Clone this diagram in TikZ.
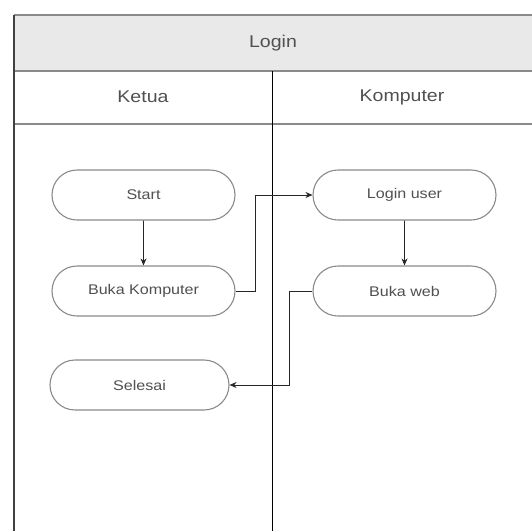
\documentclass[tikz,border=0pt]{standalone}
\usepackage{fontspec}
\setmainfont{Liberation Sans}
\newfontfamily\lanefont[FakeStretch=1.15]{Liberation Sans}
\usetikzlibrary{shapes.misc,arrows.meta}
\definecolor{bandgray}{HTML}{E9E9E9}
\definecolor{linegray}{HTML}{8A8A8A}
\definecolor{txtgray}{HTML}{505050}
\tikzset{
  actbox/.style={rounded rectangle, draw=linegray, line width=1.1pt, fill=white,
    minimum width=183pt, minimum height=50pt, inner sep=0pt,
    font=\lanefont\fontsize{14}{16}\selectfont, text=txtgray},
  headtxt/.style={font=\lanefont\fontsize{17}{19}\selectfont, text=txtgray},
  flow/.style={draw=black!85, line width=0.8pt, -{Stealth[length=7pt,width=6pt]}},
}
\begin{document}
\begin{tikzpicture}[x=1pt,y=-1pt]
\useasboundingbox (0,0) rectangle (532,531);
% title band
\fill[bandgray] (14,15) rectangle (532,71);
\draw[linegray, line width=1.4pt] (14,15) -- (532,15);
\draw[linegray, line width=1.4pt] (14,71) -- (532,71);
\draw[linegray, line width=1.4pt] (14,124) -- (532,124);
\draw[black!75, line width=1.4pt] (14,15) -- (14,531);
\draw[black, line width=0.9pt] (272,71) -- (272,531);
\node[headtxt] (title) at (273,43) {Login};
\node[headtxt] (ketua) at (143,97) {Ketua};
\node[headtxt] (komp) at (402,97) {Komputer};
% activities
\node[actbox] (start) at (143.5,195) {Start};
\node[actbox] (buka) at (143.5,291) {Buka Komputer};
\node[actbox] (login) at (404.5,195) {Login user};
\node[actbox] (web) at (404.5,291) {Buka web};
\node[actbox, minimum width=179pt] (selesai) at (139.5,385) {Selesai};
% connectors
\draw[flow] (start) -- (buka);
\draw[flow] (login) -- (web);
\draw[flow] (buka.east) -- (255,291) -- (255,195) -- (login.west);
\draw[flow] (web.west) -- (289,291) -- (289,385) -- (selesai.east);
\end{tikzpicture}
\end{document}
